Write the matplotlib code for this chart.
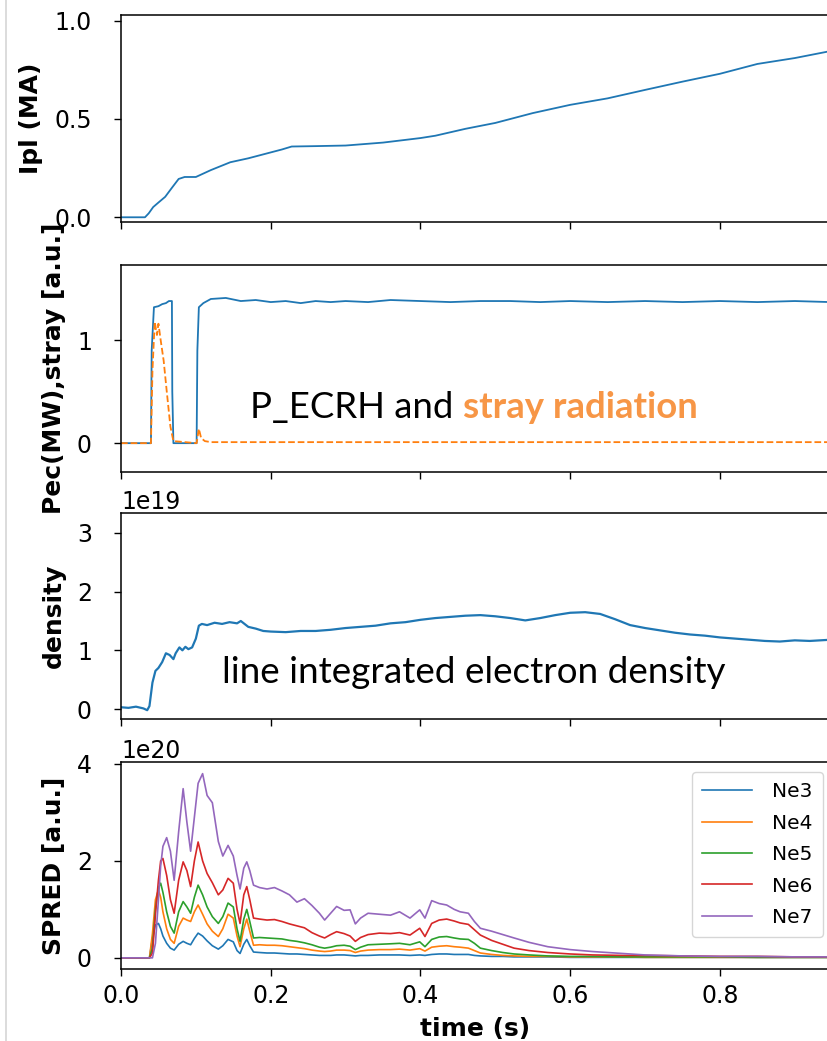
import matplotlib
matplotlib.use('Agg')
from matplotlib import pyplot as plt
from matplotlib.lines import Line2D

# plasma current
t_ipl = [0.0, 0.032, 0.037, 0.043, 0.050, 0.059, 0.068, 0.077, 0.085, 0.100,
         0.120, 0.146, 0.170, 0.200, 0.215, 0.228, 0.260, 0.300, 0.350, 0.400,
         0.420, 0.460, 0.500, 0.550, 0.600, 0.650, 0.700, 0.750, 0.800, 0.850,
         0.900, 0.947]
ipl = [0.0, 0.0, 0.02, 0.052, 0.075, 0.104, 0.15, 0.195, 0.205, 0.205,
       0.24, 0.28, 0.30, 0.33, 0.345, 0.36, 0.362, 0.365, 0.38, 0.403,
       0.415, 0.45, 0.48, 0.53, 0.572, 0.605, 0.648, 0.69, 0.73, 0.78,
       0.81, 0.845]

# ECRH power and stray radiation
t_pec = [0.0, 0.040, 0.041, 0.044, 0.050, 0.055, 0.060, 0.064, 0.068, 0.0685,
         0.070, 0.101, 0.102, 0.104, 0.110, 0.120, 0.140, 0.160, 0.180, 0.200,
         0.220, 0.240, 0.260, 0.280, 0.300, 0.330, 0.360, 0.400, 0.440, 0.480,
         0.520, 0.560, 0.600, 0.650, 0.700, 0.750, 0.800, 0.850, 0.900, 0.947]
pec = [0.0, 0.0, 0.9, 1.32, 1.33, 1.35, 1.36, 1.38, 1.38, 0.5,
       0.0, 0.0, 0.9, 1.32, 1.36, 1.40, 1.41, 1.38, 1.39, 1.37,
       1.38, 1.36, 1.38, 1.37, 1.38, 1.37, 1.39, 1.38, 1.37, 1.38,
       1.38, 1.37, 1.38, 1.37, 1.38, 1.37, 1.38, 1.37, 1.38, 1.37]
t_stray = [0.0, 0.040, 0.042, 0.045, 0.048, 0.050, 0.053, 0.057, 0.061, 0.066,
           0.070, 0.101, 0.104, 0.107, 0.112, 0.120, 0.947]
stray = [0.0, 0.0, 0.7, 1.18, 1.05, 1.16, 1.0, 0.8, 0.51, 0.16,
         0.02, 0.0, 0.14, 0.05, 0.02, 0.01, 0.01]

# line integrated density (1e19)
t_ne = [0.0, 0.01, 0.02, 0.03, 0.035, 0.038, 0.042, 0.046, 0.050, 0.055,
        0.060, 0.065, 0.070, 0.073, 0.078, 0.082, 0.086, 0.090, 0.095, 0.100,
        0.104, 0.108, 0.115, 0.125, 0.135, 0.145, 0.155, 0.160, 0.170, 0.180,
        0.190, 0.200, 0.220, 0.240, 0.260, 0.280, 0.300, 0.320, 0.340, 0.360,
        0.380, 0.400, 0.420, 0.440, 0.460, 0.480, 0.500, 0.520, 0.540, 0.560,
        0.580, 0.600, 0.620, 0.640, 0.660, 0.680, 0.700, 0.720, 0.740, 0.760,
        0.780, 0.800, 0.820, 0.840, 0.860, 0.880, 0.900, 0.920, 0.947]
dens = [0.03, 0.02, 0.04, 0.01, -0.02, 0.05, 0.45, 0.65, 0.70, 0.80,
        0.95, 0.92, 0.85, 0.95, 1.05, 1.00, 1.06, 1.02, 1.05, 1.20,
        1.42, 1.45, 1.43, 1.47, 1.45, 1.48, 1.46, 1.50, 1.40, 1.37,
        1.33, 1.32, 1.31, 1.33, 1.33, 1.35, 1.38, 1.40, 1.42, 1.46,
        1.48, 1.52, 1.55, 1.57, 1.59, 1.60, 1.58, 1.55, 1.51, 1.55,
        1.60, 1.64, 1.65, 1.62, 1.53, 1.43, 1.38, 1.34, 1.30, 1.27,
        1.25, 1.22, 1.20, 1.18, 1.16, 1.15, 1.17, 1.16, 1.18]

# SPRED neon lines (1e20)
t_spred = [0, 0.038, 0.042, 0.046, 0.050, 0.053, 0.056, 0.061, 0.066, 0.071,
           0.077, 0.083, 0.088, 0.093, 0.098, 0.103, 0.109, 0.115, 0.122, 0.130,
           0.136, 0.143, 0.150, 0.155, 0.159, 0.164, 0.168, 0.172, 0.177, 0.185,
           0.195, 0.205, 0.215, 0.225, 0.235, 0.245, 0.255, 0.265, 0.272, 0.280,
           0.288, 0.298, 0.306, 0.313, 0.320, 0.330, 0.345, 0.360, 0.372, 0.386,
           0.399, 0.406, 0.415, 0.425, 0.435, 0.445, 0.453, 0.464, 0.472, 0.480,
           0.495, 0.510, 0.525, 0.545, 0.570, 0.600, 0.630, 0.670, 0.700, 0.750,
           0.800, 0.850, 0.900, 0.947]
ne3 = [0, 0, 0.4, 0.68, 0.71, 0.60, 0.45, 0.30, 0.20, 0.16,
       0.28, 0.34, 0.30, 0.27, 0.40, 0.51, 0.45, 0.35, 0.25, 0.18,
       0.25, 0.38, 0.33, 0.15, 0.09, 0.28, 0.38, 0.25, 0.12, 0.11,
       0.10, 0.10, 0.09, 0.08, 0.08, 0.07, 0.06, 0.05, 0.05, 0.05,
       0.06, 0.06, 0.05, 0.04, 0.05, 0.05, 0.06, 0.06, 0.06, 0.05,
       0.06, 0.05, 0.07, 0.08, 0.08, 0.07, 0.07, 0.07, 0.05, 0.04,
       0.03, 0.03, 0.02, 0.02, 0.02, 0.01, 0.01, 0.01, 0.01, 0.01,
       0.01, 0.01, 0.01, 0.01]
ne4 = [0, 0, 0.5, 1.2, 1.40, 1.25, 0.95, 0.60, 0.38, 0.30,
       0.65, 0.82, 0.78, 0.75, 0.95, 1.09, 0.90, 0.70, 0.55, 0.44,
       0.60, 0.90, 0.82, 0.45, 0.23, 0.60, 0.80, 0.55, 0.26, 0.27,
       0.26, 0.26, 0.25, 0.23, 0.21, 0.19, 0.16, 0.14, 0.13, 0.14,
       0.16, 0.16, 0.15, 0.11, 0.14, 0.16, 0.17, 0.17, 0.18, 0.16,
       0.19, 0.14, 0.22, 0.24, 0.25, 0.23, 0.22, 0.20, 0.15, 0.10,
       0.07, 0.05, 0.04, 0.03, 0.03, 0.02, 0.02, 0.02, 0.01, 0.01,
       0.01, 0.01, 0.01, 0.01]
ne5 = [0, 0, 0.2, 1.0, 1.45, 1.54, 1.35, 0.95, 0.65, 0.51,
       0.95, 1.16, 1.05, 0.92, 1.25, 1.50, 1.30, 1.05, 0.85, 0.71,
       0.85, 1.13, 1.05, 0.60, 0.34, 0.80, 1.00, 0.75, 0.41, 0.42,
       0.41, 0.40, 0.39, 0.36, 0.34, 0.31, 0.27, 0.22, 0.20, 0.22,
       0.25, 0.26, 0.24, 0.17, 0.22, 0.27, 0.28, 0.29, 0.30, 0.27,
       0.33, 0.23, 0.38, 0.43, 0.44, 0.41, 0.39, 0.38, 0.30, 0.20,
       0.15, 0.11, 0.08, 0.06, 0.04, 0.03, 0.03, 0.02, 0.02, 0.02,
       0.02, 0.01, 0.01, 0.01]
ne6 = [0, 0, 0.1, 0.9, 1.6, 2.0, 2.05, 1.7, 1.2, 0.92,
       1.6, 1.98, 1.8, 1.47, 2.0, 2.39, 2.0, 1.74, 1.55, 1.30,
       1.40, 1.64, 1.54, 1.0, 0.71, 1.3, 1.47, 1.2, 0.82, 0.80,
       0.78, 0.79, 0.75, 0.70, 0.66, 0.62, 0.52, 0.45, 0.41, 0.48,
       0.54, 0.50, 0.45, 0.34, 0.42, 0.48, 0.51, 0.50, 0.52, 0.47,
       0.61, 0.44, 0.71, 0.78, 0.80, 0.76, 0.72, 0.69, 0.58, 0.47,
       0.36, 0.28, 0.20, 0.15, 0.11, 0.08, 0.06, 0.05, 0.05, 0.04,
       0.03, 0.03, 0.02, 0.02]
ne7 = [0, 0, 0, 0.3, 1.2, 1.9, 2.3, 2.48, 2.2, 1.6,
       2.6, 3.49, 2.8, 2.2, 2.9, 3.6, 3.8, 3.35, 3.2, 2.4,
       2.1, 2.32, 2.1, 1.7, 1.42, 1.85, 1.98, 1.8, 1.5, 1.45,
       1.42, 1.45, 1.38, 1.30, 1.15, 1.22, 1.08, 0.92, 0.78, 0.92,
       1.06, 0.98, 0.99, 0.70, 0.82, 0.92, 0.90, 0.88, 0.95, 0.82,
       0.99, 0.82, 1.18, 1.12, 1.09, 1.00, 0.95, 0.92, 0.75, 0.61,
       0.55, 0.48, 0.41, 0.32, 0.23, 0.17, 0.13, 0.09, 0.06, 0.04,
       0.03, 0.03, 0.02, 0.02]
spred_names = ['Ne3', 'Ne4', 'Ne5', 'Ne6', 'Ne7']

W, H = 827, 1041
fig = plt.figure(figsize=(W / 100, H / 100), dpi=100)

def panel(top, bottom):
    # axes placed in pixel coords, right edge runs off the figure (cropped)
    ax = fig.add_axes([121 / W, 1 - bottom / H, (830 - 121) / W, (bottom - top) / H])
    ax.set_xlim(0, 0.947)
    ax.set_xticks([0.0, 0.2, 0.4, 0.6, 0.8])
    ax.tick_params(axis='both', length=5, width=1, labelsize=17)
    ax.tick_params(axis='y', pad=16)
    ax.tick_params(axis='x', pad=6)
    for s in ax.spines.values():
        s.set_linewidth(1.1)
    ax.yaxis.get_offset_text().set_fontsize(17)
    return ax

ax1 = panel(15, 222)
ax2 = panel(265, 472)
ax3 = panel(513, 719)
ax4 = panel(762, 969)

ax1.plot(t_ipl, ipl, color='tab:blue', lw=1.3)
ax1.set_ylim(-0.024, 1.029)
ax1.set_yticks([0.0, 0.5, 1.0])
ax1.set_ylabel('Ipl (MA)', fontsize=18, fontweight='bold', labelpad=8)

ax2.plot(t_pec, pec, color='tab:blue', lw=1.3)
ax2.plot(t_stray, stray, color='tab:orange', lw=1.3, ls='--')
ax2.set_ylim(-0.28, 1.73)
ax2.set_yticks([0, 1])
ax2.set_ylabel('Pec(MW),stray [a.u.]', fontsize=18, fontweight='bold', labelpad=8)

ax3.plot(t_ne, [d * 1e19 for d in dens], color='tab:blue', lw=1.6)
ax3.set_ylim(-0.17e19, 3.34e19)
ax3.set_yticks([0, 1e19, 2e19, 3e19])
ax3.set_ylabel('density', fontsize=18, fontweight='bold', labelpad=8)

for name, vals in zip(spred_names, [ne3, ne4, ne5, ne6, ne7]):
    ax4.plot(t_spred, [v * 1e20 for v in vals], lw=1.2, label=name)
ax4.set_ylim(-0.23e20, 4.04e20)
ax4.set_yticks([0, 2e20, 4e20])
ax4.set_ylabel('SPRED [a.u.]', fontsize=18, fontweight='bold', labelpad=8)
ax4.set_xlabel('time (s)', fontsize=18, fontweight='bold', labelpad=6)
ax4.legend(loc='upper right', fontsize=14.5, handlelength=2.5, labelspacing=0.62,
           handletextpad=1.0, borderpad=0.5,
           bbox_to_anchor=(823 / W, 1 - 772 / H), bbox_transform=fig.transFigure,
           borderaxespad=0)

for ax in (ax1, ax2, ax3):
    ax.tick_params(labelbottom=False)

# overlaid annotations
fam = ['Lato', 'DejaVu Sans']
t1 = fig.text(250 / W, 1 - 418 / H, 'P_ECRH and ', fontsize=26.3, family=fam,
              va='baseline', ha='left')
ax2.annotate('stray radiation', xy=(1, 0), xycoords=t1, va='bottom', ha='left',
             fontsize=26.3, fontweight='bold', color='#F79646', family=fam,
             annotation_clip=False)
fig.text(222 / W, 1 - 683 / H, 'line integrated electron density', fontsize=26.6,
         family=fam, va='baseline', ha='left')

# screenshot border on the left
fig.add_artist(Line2D([5.5 / W, 5.5 / W], [0, 1], transform=fig.transFigure,
                      color='#d6d6d6', lw=1.2))

fig.savefig('out.png', dpi=100)
